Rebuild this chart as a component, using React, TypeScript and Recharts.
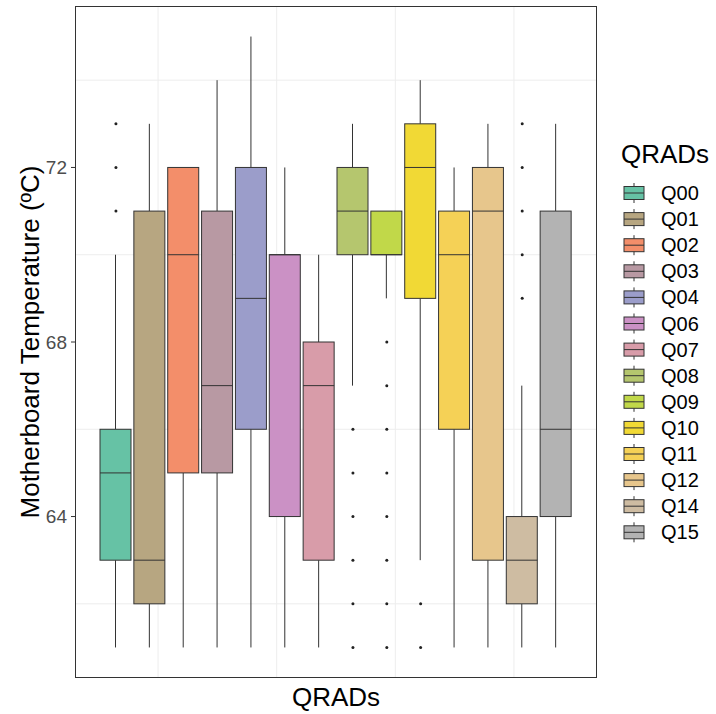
import { ComposedChart, Bar, Scatter, XAxis, YAxis, CartesianGrid } from "recharts";

const qrads = ["Q00", "Q01", "Q02", "Q03", "Q04", "Q06", "Q07", "Q08", "Q09", "Q10", "Q11", "Q12", "Q14", "Q15"];
const whiskerLow = [61, 61, 61, 61, 61, 61, 61, 67, 69, 63, 61, 61, 61, 61];
const lowerQuartile = [63, 62, 65, 65, 66, 64, 63, 70, 70, 69, 66, 63, 62, 64];
const medians = [65, 63, 70, 67, 69, 70, 67, 71, 70, 72, 70, 71, 63, 66];
const upperQuartile = [66, 71, 72, 71, 72, 70, 68, 72, 71, 73, 71, 72, 64, 71];
const whiskerHigh = [70, 73, 72, 74, 75, 72, 70, 73, 71, 74, 72, 73, 67, 73];
const outliers: number[][] = [
  [71, 72, 73],
  [],
  [],
  [],
  [],
  [],
  [],
  [61, 62, 63, 64, 65, 66],
  [61, 62, 63, 64, 65, 66, 67, 68],
  [61, 62],
  [],
  [],
  [69, 70, 71, 72, 73],
  [],
];
const yTicks = [64, 68, 72];
const yMinor = [62, 66, 70, 74];
// hidden continuous x of the dodged group (ggplot), minor breaks only
const xDomain = [-0.44, 0.44];
const xMinor = [-0.3, -0.1, 0.1, 0.3];

const boxColors = [
  "#66C2A5", "#B7A681", "#F38E6A", "#B899A3", "#9B9DCA", "#CB91C5", "#D89CA9",
  "#B5C66E", "#C1D849", "#F1D935", "#F5D156", "#E7C68C", "#CEBCA2", "#B3B3B3",
];

const rows = qrads.map((q, i) => ({
  q,
  range: [whiskerLow[i], whiskerHigh[i]],
  q1: lowerQuartile[i],
  med: medians[i],
  q3: upperQuartile[i],
}));

const outlierRows = qrads.flatMap((q, i) => outliers[i].map((v) => ({ q, v })));

const LINE = "#333333";
const FONT = "'Liberation Sans', Arial, Helvetica, sans-serif";

function BoxShape(props: any) {
  const { x, y, width, height, payload, index } = props;
  const [lo, hi] = payload.range;
  const top = Math.min(y, y + height);
  const bot = Math.max(y, y + height);
  const py = (v: number) => bot - ((v - lo) / (hi - lo)) * (bot - top);
  const cx = x + width / 2;
  return (
    <g>
      <line x1={cx} x2={cx} y1={py(hi)} y2={py(payload.q3)} stroke={LINE} strokeWidth={1} />
      <line x1={cx} x2={cx} y1={py(payload.q1)} y2={py(lo)} stroke={LINE} strokeWidth={1} />
      <rect
        x={x}
        y={py(payload.q3)}
        width={width}
        height={py(payload.q1) - py(payload.q3)}
        fill={boxColors[index]}
        stroke={LINE}
        strokeWidth={1}
      />
      <line x1={x} x2={x + width} y1={py(payload.med)} y2={py(payload.med)} stroke={LINE} strokeWidth={1} />
    </g>
  );
}

function OutlierDot(props: any) {
  return <circle cx={props.cx} cy={props.cy} r={1.5} fill="#222" />;
}

function verticalGrid(props: any) {
  const left = props?.offset?.left ?? 75;
  const width = props?.offset?.width ?? 522;
  return xMinor.map((v) => left + ((v - xDomain[0]) / (xDomain[1] - xDomain[0])) * width);
}

function Legend() {
  return (
    <svg width={116} height={440} style={{ position: "absolute", left: 600, top: 120 }}>
      <text x={21} y={43} fontSize={26} fontFamily={FONT} fill="#000">
        QRADs
      </text>
      {qrads.map((q, i) => {
        const cy = 73 + i * 26.1;
        return (
          <g key={q}>
            <line x1={34} x2={34} y1={cy - 10} y2={cy + 10} stroke={LINE} strokeWidth={1} />
            <rect x={24} y={cy - 6.5} width={20} height={13} fill={boxColors[i]} stroke={LINE} strokeWidth={1} />
            <line x1={24} x2={44} y1={cy} y2={cy} stroke={LINE} strokeWidth={1} />
            <text x={61} y={cy + 7} fontSize={20} fontFamily={FONT} fill="#000">
              {q}
            </text>
          </g>
        );
      })}
    </svg>
  );
}

export default function App() {
  return (
    <div style={{ position: "absolute", left: 0, top: 0, width: 716, height: 714, fontFamily: FONT }}>
      <ComposedChart width={716} height={714} data={rows} margin={{ top: 6, right: 119, bottom: 0, left: 0 }}>
        <CartesianGrid
          horizontalValues={yMinor}
          verticalCoordinatesGenerator={verticalGrid}
          stroke="#EDEDED"
          strokeWidth={1}
        />
        <XAxis
          dataKey="q"
          type="category"
          allowDuplicatedCategory={false}
          padding={{ left: 24, right: 24 }}
          height={36}
          tick={false}
          tickLine={false}
          axisLine={false}
          label={{
            content: ({ viewBox }: any) => (
              <text
                x={viewBox.x + viewBox.width / 2}
                y={706}
                textAnchor="middle"
                fontSize={26}
                fontFamily={FONT}
                fill="#000"
              >
                QRADs
              </text>
            ),
          }}
        />
        <YAxis
          type="number"
          domain={[60.3, 75.7]}
          allowDataOverflow
          ticks={yTicks}
          width={75}
          axisLine={false}
          tickSize={4}
          tickMargin={4}
          tickLine={{ stroke: LINE }}
          tick={{ fontSize: 19, fill: "#4D4D4D", fontFamily: FONT }}
          label={{
            content: ({ viewBox }: any) => {
              const cy = viewBox.y + viewBox.height / 2;
              return (
                <text
                  x={39}
                  y={cy}
                  transform={`rotate(-90, 39, ${cy})`}
                  textAnchor="middle"
                  fontSize={26}
                  fontFamily={FONT}
                  fill="#000"
                >
                  Motherboard Temperature (ºC)
                </text>
              );
            },
          }}
        />
        <Bar dataKey="range" barSize={31} shape={BoxShape} isAnimationActive={false} />
        <Scatter data={outlierRows} dataKey="v" shape={OutlierDot} isAnimationActive={false} />
      </ComposedChart>
      <div
        style={{
          position: "absolute",
          left: 75,
          top: 6,
          width: 522,
          height: 672,
          border: `1px solid ${LINE}`,
          boxSizing: "border-box",
          pointerEvents: "none",
        }}
      />
      <Legend />
    </div>
  );
}
